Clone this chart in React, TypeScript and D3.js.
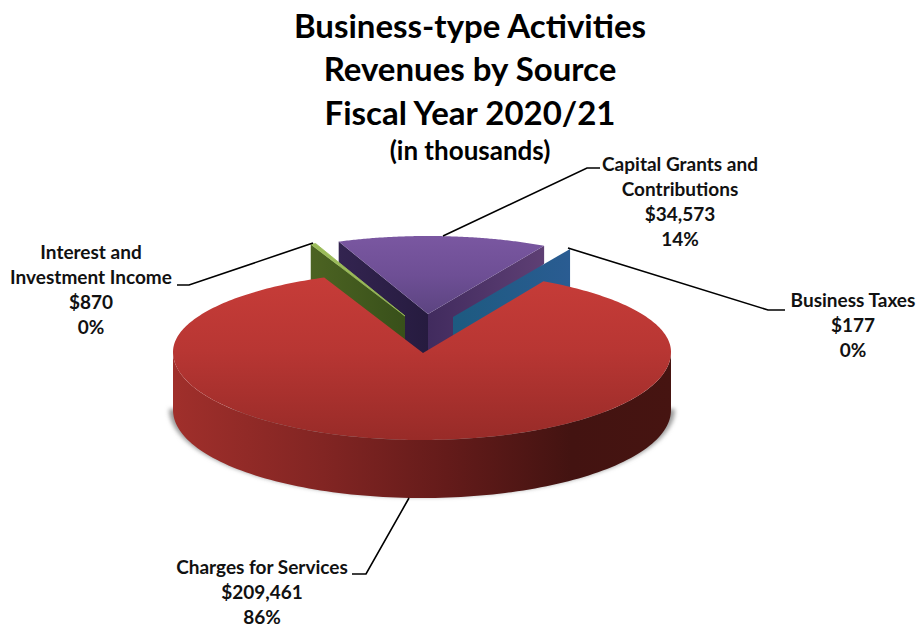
import React from "react";
import * as d3 from "d3";

const categories = ["Charges for Services", "Interest and Investment Income", "Capital Grants and Contributions", "Business Taxes"];
const values = [209461, 870, 34573, 177];
const titleLines = ["Business-type Activities", "Revenues by Source", "Fiscal Year 2020/21"];
const subtitle = "(in thousands)";
const labelLines = [
  ["Charges for Services", "$209,461", "86%"],
  ["Interest and", "Investment Income", "$870", "0%"],
  ["Capital Grants and", "Contributions", "$34,573", "14%"],
  ["Business Taxes", "$177", "0%"],
];
const labelAnchors: [number, number][] = [[262, 574], [91, 259], [680, 171], [853, 307]];
const leaders: [number, number][][] = [
  [[409, 498], [366, 574], [352, 574]],
  [[177, 285], [189, 285], [313, 243]],
  [[443, 236], [587, 168], [600, 168]],
  [[568, 248], [768, 310], [785, 310]],
];

const FONT = "Lato, 'Open Sans', sans-serif";
const startDeg = 29.2;
const pieLayout = d3.pie<number>().sort(null)
  .startAngle((startDeg * Math.PI) / 180)
  .endAngle((startDeg * Math.PI) / 180 + 2 * Math.PI);
const arcs = pieLayout(values);

type Geo = { cx: number; cy: number; rx: number; ryB: number; ryF: number };
const project = (g: Geo, a: number, dy = 0): [number, number] => {
  const c = Math.cos(a);
  return [g.cx + g.rx * Math.sin(a), g.cy - (c > 0 ? g.ryB : g.ryF) * c + dy];
};
const line = d3.line<[number, number]>();
const sweep = (g: Geo, a0: number, a1: number, dy = 0, n = 120) =>
  d3.range(n + 1).map((i) => project(g, a0 + ((a1 - a0) * i) / n, dy));
const pts = (p: [number, number][]) => (line(p) as string) + "Z";

const mainGeo: Geo = { cx: 422, cy: 352, rx: 249, ryB: 81, ryF: 88 };
const purpleGeo: Geo = { cx: 428, cy: 314, rx: 240, ryB: 78, ryF: 78 };
const greenGeo: Geo = { cx: 405, cy: 316, rx: 240, ryB: 78, ryF: 78 };
const blueGeo: Geo = { cx: 453, cy: 317, rx: 240, ryB: 78, ryF: 78 };
const wallDepth = 58;

export default function App() {
  const [red, green, purple, blue] = arcs;
  const left = Math.PI * 1.5;
  const right = Math.PI * 0.5;
  const wallFront = [
    ...sweep(mainGeo, right, left),
    ...sweep(mainGeo, left, right, wallDepth),
  ];
  const shadowGeo: Geo = { ...mainGeo, rx: 253, ryF: 88 };
  const shadow = sweep(shadowGeo, right, left, wallDepth - 1);
  const redTop: [number, number][] = [[mainGeo.cx + 1, mainGeo.cy + 1], ...sweep(mainGeo, red.startAngle, red.endAngle, 0, 300)];

  const pTop: [number, number][] = [[purpleGeo.cx, purpleGeo.cy], ...sweep(purpleGeo, purple.startAngle, purple.endAngle)];
  const pL = project(purpleGeo, purple.startAngle);
  const pR = project(purpleGeo, purple.endAngle);
  const pA: [number, number] = [purpleGeo.cx, purpleGeo.cy];
  const pWallL: [number, number][] = [pL, pA, [pA[0], pA[1] + 52], [pL[0], pL[1] + 28]];
  const pWallR: [number, number][] = [pA, pR, [pR[0], pR[1] + 18], [pA[0], pA[1] + 52]];

  const gA: [number, number] = [greenGeo.cx, greenGeo.cy];
  const gO = project(greenGeo, green.startAngle);
  const gO2 = project(greenGeo, green.endAngle);
  const gWall: [number, number][] = [gO, gA, [gA[0], gA[1] + 42], [gO[0], gO[1] + 42]];
  const gTop: [number, number][] = [gA, gO, gO2];

  const bA: [number, number] = [blueGeo.cx, blueGeo.cy];
  const bO = project(blueGeo, blue.endAngle);
  const bWall: [number, number][] = [bA, bO, [bO[0], bO[1] + 42], [bA[0], bA[1] + 42]];

  return (
    <svg width={917} height={629} style={{ position: "absolute", left: 0, top: 0, background: "#fff" }} fontFamily={FONT}>
      <defs>
        <linearGradient id="redTop" x1="0" y1="0" x2="0" y2="1">
          <stop offset="0" stopColor="#c63c38" />
          <stop offset="0.45" stopColor="#b83633" />
          <stop offset="1" stopColor="#982b28" />
        </linearGradient>
        <linearGradient id="redWall" x1="0" y1="0" x2="1" y2="0">
          <stop offset="0" stopColor="#a02f2b" />
          <stop offset="0.3" stopColor="#822523" />
          <stop offset="0.55" stopColor="#641b1a" />
          <stop offset="0.8" stopColor="#431311" />
          <stop offset="1" stopColor="#461411" />
        </linearGradient>
        <linearGradient id="purpleTop" x1="0" y1="0" x2="0" y2="1">
          <stop offset="0" stopColor="#7a57a1" />
          <stop offset="0.5" stopColor="#6e4f95" />
          <stop offset="1" stopColor="#5c4481" />
        </linearGradient>
        <linearGradient id="purpleWallR" x1="0" y1="0" x2="1" y2="0">
          <stop offset="0" stopColor="#412b5e" />
          <stop offset="1" stopColor="#5e3f74" />
        </linearGradient>
        <linearGradient id="purpleWallL" x1="0" y1="0" x2="1" y2="0">
          <stop offset="0" stopColor="#332450" />
          <stop offset="1" stopColor="#261b3f" />
        </linearGradient>
        <linearGradient id="greenWall" x1="0" y1="0" x2="1" y2="0">
          <stop offset="0" stopColor="#4c6322" />
          <stop offset="1" stopColor="#38501a" />
        </linearGradient>
        <linearGradient id="blueWall" x1="0" y1="0" x2="1" y2="0">
          <stop offset="0" stopColor="#1d5a80" />
          <stop offset="1" stopColor="#2a5c92" />
        </linearGradient>
        <filter id="soft" x="-5%" y="-20%" width="110%" height="140%">
          <feGaussianBlur stdDeviation="2" />
        </filter>
      </defs>

      {titleLines.map((t, i) => (
        <text key={t} x={470} y={[38, 81, 125][i]} textAnchor="middle" fontWeight={700} fontSize={33} fill="#000">{t}</text>
      ))}
      <text x={470} y={160} textAnchor="middle" fontWeight={700} fontSize={26} fill="#000">{subtitle}</text>

      {/* shadow */}
      <path d={pts([...shadow])} fill="#9a9a9a" filter="url(#soft)" />

      {/* exploded slices, back to front */}
      <g data-name={categories[2]}>
        <path d={pts(pWallL)} fill="url(#purpleWallL)" />
        <path d={pts(pWallR)} fill="url(#purpleWallR)" />
        <path d={pts(pTop)} fill="url(#purpleTop)" />
      </g>
      <g data-name={categories[1]}>
        <path d={pts(gWall)} fill="url(#greenWall)" />
        <path d={pts(gTop)} fill="#9bbb59" stroke="#9bbb59" strokeWidth={0.8} />
      </g>
      <g data-name={categories[3]}>
        <path d={pts(bWall)} fill="url(#blueWall)" />
      </g>

      {/* main slice */}
      <g data-name={categories[0]}>
        <path d={pts(wallFront)} fill="url(#redWall)" />
        <path d={pts(redTop)} fill="url(#redTop)" />
      </g>

      {leaders.map((l, i) => (
        <path key={i} d={line(l) as string} fill="none" stroke="#000" strokeWidth={1.6} />
      ))}

      {labelLines.map((lines, i) => (
        <text key={i} textAnchor="middle" fontWeight={700} fontSize={19} fill="#111">
          {lines.map((s, j) => (
            <tspan key={j} x={labelAnchors[i][0]} y={labelAnchors[i][1] + j * 25}>{s}</tspan>
          ))}
        </text>
      ))}
    </svg>
  );
}
